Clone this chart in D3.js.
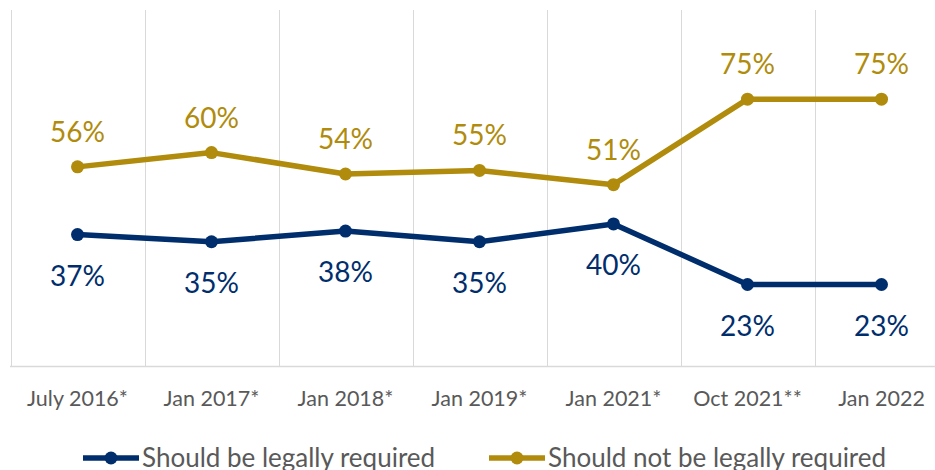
<!DOCTYPE html>
<html><head><meta charset="utf-8">
<script src="https://cdn.jsdelivr.net/npm/d3@7"></script>
<style>body{margin:0;background:#fff}svg{display:block}</style>
</head><body>
<svg id="c" width="935" height="470"></svg>
<script>
const categories = ["July 2016*","Jan 2017*","Jan 2018*","Jan 2019*","Jan 2021*","Oct 2021**","Jan 2022"];
const required = [37,35,38,35,40,23,23];
const notRequired = [56,60,54,55,51,75,75];
const seriesNames = ["Should be legally required","Should not be legally required"];
const colors = ["#002E6D","#B08B0C"];

const svg = d3.select("#c");
const font = "Lato, 'Open Sans', sans-serif";
const x = d3.scaleBand().domain(categories).range([10.5, 948.5]);
const y = d3.scaleLinear().domain([0,100]).range([366.5, 10]);

// gridlines
svg.append("g").selectAll("line").data(categories).join("line")
  .attr("x1", d=>Math.round(x(d))+0.5).attr("x2", d=>Math.round(x(d))+0.5)
  .attr("y1", y(100)).attr("y2", y(0))
  .attr("stroke","#D9D9D9").attr("stroke-width",1);
svg.append("line").attr("x1",10).attr("x2",935).attr("y1",y(0)).attr("y2",y(0))
  .attr("stroke","#D9D9D9").attr("stroke-width",1.5);

// x axis labels
const xAxis = d3.axisBottom(x).tickSize(0).tickPadding(0);
const gx = svg.append("g").attr("transform",`translate(0,${y(0)})`).call(xAxis);
gx.select(".domain").remove();
gx.selectAll("text").attr("font-family",font).attr("font-size",21.5).attr("fill","#595959")
  .attr("dy",null).attr("y",31).attr("dominant-baseline","central");

const cx = d => x(d) + x.bandwidth()/2;
const line = d3.line().x((d,i)=>cx(categories[i])).y(d=>y(d));

const series = [
  {name: seriesNames[0], values: required, color: colors[0], off: 40},
  {name: seriesNames[1], values: notRequired, color: colors[1], off: -36}
];
series.forEach(s=>{
  svg.append("path").datum(s.values).attr("d",line).attr("fill","none")
    .attr("stroke",s.color).attr("stroke-width",5.5).attr("stroke-linejoin","round");
  svg.append("g").selectAll("circle").data(s.values).join("circle")
    .attr("cx",(d,i)=>cx(categories[i])).attr("cy",d=>y(d)).attr("r",6.5).attr("fill",s.color);
  svg.append("g").selectAll("text").data(s.values).join("text")
    .attr("x",(d,i)=>cx(categories[i])).attr("y",d=>y(d)+s.off)
    .attr("text-anchor","middle").attr("dominant-baseline","central")
    .attr("font-family",font).attr("font-size",28).attr("fill",s.color)
    .text(d=>d+"%");
});

// legend
const legend = [
  {name: seriesNames[0], color: colors[0], x0: 83},
  {name: seriesNames[1], color: colors[1], x0: 489}
];
const lg = svg.append("g");
legend.forEach(l=>{
  lg.append("line").attr("x1",l.x0).attr("x2",l.x0+56).attr("y1",458).attr("y2",458)
    .attr("stroke",l.color).attr("stroke-width",5.5);
  lg.append("circle").attr("cx",l.x0+28).attr("cy",458).attr("r",6.5).attr("fill",l.color);
  lg.append("text").attr("x",l.x0+59).attr("y",457).attr("dominant-baseline","central")
    .attr("font-family",font).attr("font-size",26).attr("fill","#595959").text(l.name);
});
</script>
</body></html>
